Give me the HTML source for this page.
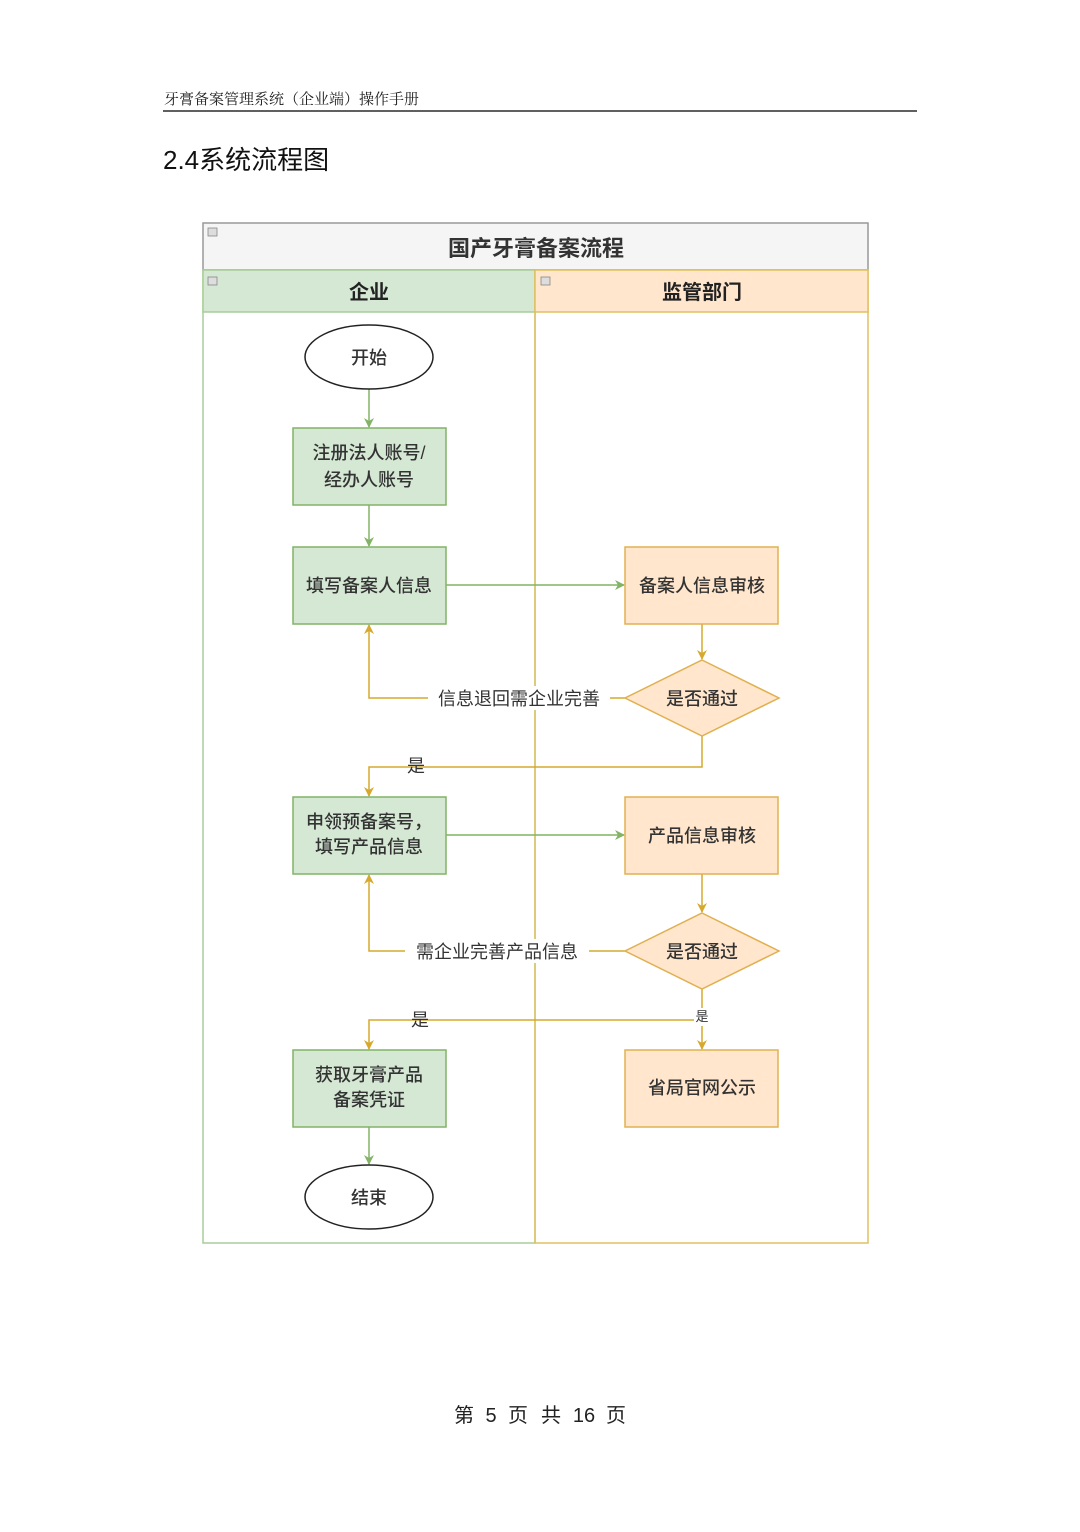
<!DOCTYPE html>
<html><head><meta charset="utf-8"><style>
body{margin:0;background:#fff;}
svg text{font-family:"Liberation Sans","Noto Sans CJK SC",sans-serif;}
</style></head><body>
<svg width="1080" height="1527" xmlns="http://www.w3.org/2000/svg">
<defs>
<marker id="ag" markerWidth="10" markerHeight="10" refX="9" refY="5" orient="auto" markerUnits="userSpaceOnUse"><path d="M0,0 L10,5 L0,10 L3,5 Z" fill="#82b366"/></marker>
<marker id="ay" markerWidth="10" markerHeight="10" refX="9" refY="5" orient="auto" markerUnits="userSpaceOnUse"><path d="M0,0 L10,5 L0,10 L3,5 Z" fill="#d6a82e"/></marker>
</defs>
<text x="164" y="104" font-size="15" fill="#222" style="font-family:'Noto Serif CJK SC',serif">牙膏备案管理系统（企业端）操作手册</text>
<line x1="163" y1="111" x2="917" y2="111" stroke="#000" stroke-width="1.2"/>
<text x="163" y="169" font-size="26" fill="#111">2.4系统流程图</text>

<rect x="203" y="223" width="665" height="47" fill="#f5f5f5" stroke="#999" stroke-width="1.5"/>
<text x="536" y="256" font-size="22" font-weight="bold" text-anchor="middle" fill="#333">国产牙膏备案流程</text>
<rect x="203" y="270" width="332" height="973" fill="#fff" stroke="#a9cd98" stroke-width="1.5"/>
<rect x="203" y="270" width="332" height="42" fill="#d5e8d4" stroke="#a9cd98" stroke-width="1.5"/>
<rect x="535" y="270" width="333" height="973" fill="none" stroke="#e0c060" stroke-width="1.5"/>
<rect x="535" y="270" width="333" height="42" fill="#ffe6cc" stroke="#e0c060" stroke-width="1.5"/>
<text x="369" y="299" font-size="20" font-weight="bold" text-anchor="middle" fill="#222">企业</text>
<text x="702" y="299" font-size="20" font-weight="bold" text-anchor="middle" fill="#222">监管部门</text>
<rect x="208" y="228" width="9" height="8" fill="#ddd" stroke="#888" stroke-width="0.8"/>
<rect x="208" y="277" width="9" height="8" fill="#ddd" stroke="#888" stroke-width="0.8"/>
<rect x="541" y="277" width="9" height="8" fill="#ddd" stroke="#888" stroke-width="0.8"/>

<g fill="none" stroke-width="1.5">
<path d="M369,389 V427" stroke="#82b366" marker-end="url(#ag)"/>
<path d="M369,505 V546" stroke="#82b366" marker-end="url(#ag)"/>
<path d="M446,585 H624" stroke="#82b366" marker-end="url(#ag)"/>
<path d="M702,624 V659" stroke="#d6a82e" marker-end="url(#ay)"/>
<path d="M625,698 H369 V625" stroke="#d6a82e" marker-end="url(#ay)"/>
<path d="M702,736 V767 H369 V796" stroke="#d6a82e" marker-end="url(#ay)"/>
<path d="M446,835 H624" stroke="#82b366" marker-end="url(#ag)"/>
<path d="M702,874 V912" stroke="#d6a82e" marker-end="url(#ay)"/>
<path d="M625,951 H369 V875" stroke="#d6a82e" marker-end="url(#ay)"/>
<path d="M702,989 V1049" stroke="#d6a82e" marker-end="url(#ay)"/>
<path d="M702,1020 H369 V1049" stroke="#d6a82e" marker-end="url(#ay)"/>
<path d="M369,1127 V1164" stroke="#82b366" marker-end="url(#ag)"/>
</g>

<g stroke-width="1.5">
<ellipse cx="369" cy="357" rx="64" ry="32" fill="#fff" stroke="#222"/>
<ellipse cx="369" cy="1197" rx="64" ry="32" fill="#fff" stroke="#222"/>
<rect x="293" y="428" width="153" height="77" fill="#d5e8d4" stroke="#82b366"/>
<rect x="293" y="547" width="153" height="77" fill="#d5e8d4" stroke="#82b366"/>
<rect x="293" y="797" width="153" height="77" fill="#d5e8d4" stroke="#82b366"/>
<rect x="293" y="1050" width="153" height="77" fill="#d5e8d4" stroke="#82b366"/>
<rect x="625" y="547" width="153" height="77" fill="#ffe6cc" stroke="#e0b050"/>
<rect x="625" y="797" width="153" height="77" fill="#ffe6cc" stroke="#e0b050"/>
<rect x="625" y="1050" width="153" height="77" fill="#ffe6cc" stroke="#e0b050"/>
<path d="M702,660 L779,698 L702,736 L625,698 Z" fill="#ffe6cc" stroke="#e0b050"/>
<path d="M702,913 L779,951 L702,989 L625,951 Z" fill="#ffe6cc" stroke="#e0b050"/>
</g>

<g font-size="18" fill="#333" text-anchor="middle" font-weight="500">
<text x="369" y="364">开始</text>
<text x="369" y="1204">结束</text>
<text x="369" y="459">注册法人账号/</text>
<text x="369" y="486">经办人账号</text>
<text x="369" y="592">填写备案人信息</text>
<text x="369" y="828">申领预备案号，</text>
<text x="369" y="853">填写产品信息</text>
<text x="369" y="1081">获取牙膏产品</text>
<text x="369" y="1106">备案凭证</text>
<text x="702" y="592">备案人信息审核</text>
<text x="702" y="842">产品信息审核</text>
<text x="702" y="1094">省局官网公示</text>
<text x="702" y="705">是否通过</text>
<text x="702" y="958">是否通过</text>
</g>
<g font-size="18" fill="#333" text-anchor="middle">
<rect x="428" y="686" width="182" height="24" fill="#fff"/>
<text x="519" y="705">信息退回需企业完善</text>
<rect x="405" y="939" width="184" height="24" fill="#fff"/>
<text x="497" y="958">需企业完善产品信息</text>
<text x="416" y="772">是</text>
<text x="420" y="1026">是</text>
<rect x="694" y="1008" width="16" height="18" fill="#fff"/>
<text x="702" y="1021" font-size="13">是</text>
</g>

<g font-size="20" fill="#222" text-anchor="middle" style="font-family:'Noto Serif CJK SC',serif">
<text x="464" y="1422">第</text>
<text x="491" y="1422" style="font-family:'Liberation Sans',sans-serif">5</text>
<text x="518" y="1422">页</text>
<text x="551" y="1422">共</text>
<text x="584" y="1422" style="font-family:'Liberation Sans',sans-serif">16</text>
<text x="616" y="1422">页</text>
</g>
</svg>
</body></html>
